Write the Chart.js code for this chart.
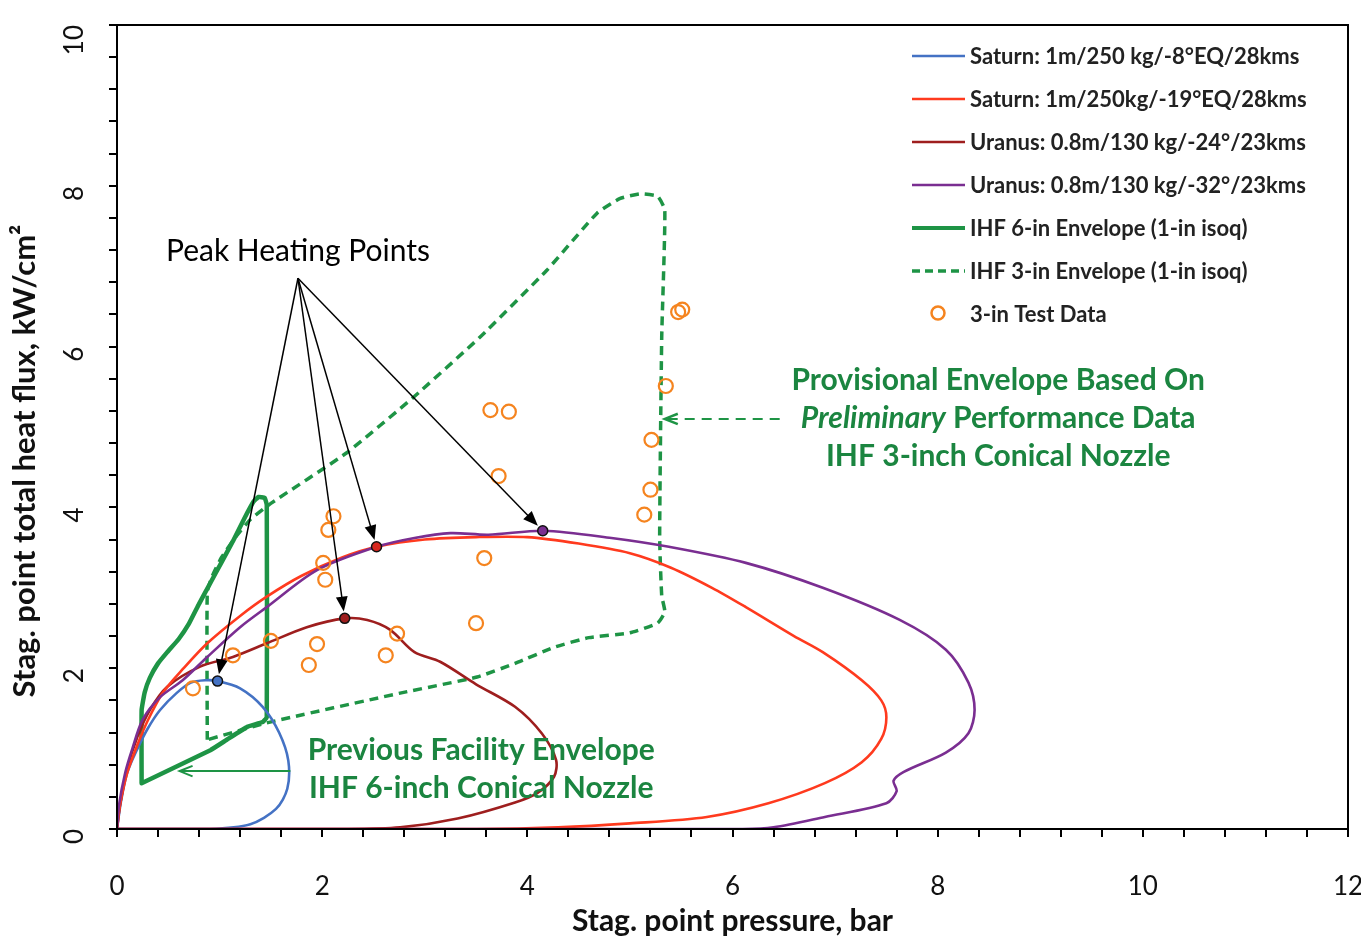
<!DOCTYPE html>
<html lang="en">
<head>
<meta charset="UTF-8">
<title>Stag. point heat flux vs pressure</title>
<script src="https://cdn.jsdelivr.net/npm/chart.js"></script>
<style>
  body { margin: 0; background: #fff; }
</style>
</head>
<body>
<canvas id="chart" width="1361" height="939"></canvas>
<script>
// trajectories: [stag. point pressure (bar), total heat flux (kW/cm2)]
const saturn8 = [[0,0],[0.04,0.35],[0.1,0.7],[0.2,1.0],[0.3,1.25],[0.42,1.48],[0.58,1.69],[0.72,1.82],[0.86,1.85],[0.98,1.84],
  [1.2,1.75],[1.42,1.52],[1.58,1.2],[1.67,0.85],[1.66,0.5],[1.55,0.25],[1.3,0.06],[0.9,0],[0,0]];
const saturn19 = [[0,0],[0.03,0.3],[0.1,0.7],[0.2,1.05],[0.3,1.35],[0.45,1.7],[0.65,2.0],[0.88,2.31],[1.2,2.65],[1.46,2.89],
  [1.8,3.15],[2.2,3.38],[2.53,3.51],[3.0,3.6],[3.5,3.63],[4.0,3.63],[4.5,3.55],[5.0,3.43],[5.4,3.25],[5.8,3.0],[6.13,2.76],
  [6.6,2.4],[6.88,2.2],[7.26,1.85],[7.45,1.6],[7.5,1.39],[7.45,1.12],[7.26,0.83],[6.9,0.57],[6.35,0.32],[5.75,0.15],
  [5.0,0.07],[4.3,0.02],[3.5,0],[0,0]];
const uranus24 = [[0,0],[0.03,0.3],[0.1,0.75],[0.2,1.15],[0.32,1.48],[0.49,1.77],[0.81,2.02],[1.13,2.14],[1.46,2.31],[1.85,2.51],
  [2.22,2.62],[2.44,2.6],[2.66,2.48],[2.9,2.2],[3.15,2.08],[3.5,1.8],[3.88,1.52],[4.14,1.19],[4.28,0.86],[4.26,0.65],
  [4.1,0.45],[3.88,0.33],[3.32,0.13],[2.76,0.02],[2.2,0],[0,0]];
const uranus32 = [[0,0],[0.02,0.3],[0.08,0.7],[0.15,1.0],[0.25,1.36],[0.42,1.64],[0.64,1.85],[0.88,2.14],[1.2,2.51],[1.46,2.76],
  [1.95,3.22],[2.53,3.51],[2.9,3.62],[3.25,3.68],[3.62,3.66],[4.16,3.71],[4.82,3.62],[5.38,3.51],[6.13,3.31],[6.88,3.0],
  [7.63,2.6],[8.08,2.23],[8.3,1.82],[8.36,1.48],[8.3,1.19],[8.08,0.95],[7.67,0.71],[7.57,0.6],[7.6,0.47],[7.5,0.32],
  [6.9,0.15],[6.4,0.02],[6.1,0],[0,0]];
// facility envelopes
const ihf6 = [[0.24,0.57],[0.24,1.48],[0.27,1.7],[0.32,1.88],[0.4,2.06],[0.49,2.2],[0.6,2.36],[0.7,2.55],[0.8,2.8],[0.91,3.06],
  [1.02,3.32],[1.13,3.58],[1.24,3.86],[1.33,4.07],[1.38,4.13],[1.44,4.12],[1.46,4.03],[1.46,1.39],[1.42,1.33],[1.27,1.27],
  [1.07,1.11],[0.91,0.98],[0.24,0.57]];
const ihf3 = [[0.88,1.11],[0.88,2.95],[0.93,3.15],[1.02,3.38],[1.15,3.62],[1.3,3.85],[1.5,4.05],[2.24,4.68],[2.89,5.37],[3.54,6.12],
  [4.19,6.95],[4.68,7.66],[4.9,7.84],[5.1,7.9],[5.27,7.87],[5.34,7.7],[5.31,6.12],[5.29,3.63],[5.31,2.9],[5.34,2.7],
  [5.27,2.56],[5.0,2.44],[4.6,2.38],[4.26,2.26],[3.88,2.06],[3.51,1.89],[2.76,1.69],[1.46,1.32],[0.88,1.11]];
const testData = [[0.74,1.75],[1.13,2.16],[1.5,2.34],[1.87,2.04],[1.95,2.3],[2.62,2.16],[2.73,2.43],[3.5,2.56],[3.58,3.37],
  [2.03,3.1],[2.01,3.31],[2.06,3.72],[2.11,3.89],[3.64,5.21],[3.82,5.19],[3.72,4.39],[5.14,3.91],[5.2,4.22],[5.21,4.84],
  [5.35,5.51],[5.47,6.43],[5.51,6.46]];
const peaks = [[0.98,1.84],[2.22,2.62],[2.53,3.51],[4.15,3.71]];
const peakColors = ['#4472C4', '#9E1E1E', '#D7261E', '#7A2E91'];

const seriesLabels = ['Saturn: 1m/250 kg/-8°EQ/28kms', 'Saturn: 1m/250kg/-19°EQ/28kms', 'Uranus: 0.8m/130 kg/-24°/23kms',
  'Uranus: 0.8m/130 kg/-32°/23kms', 'IHF 6-in Envelope (1-in isoq)', 'IHF 3-in Envelope (1-in isoq)', '3-in Test Data'];

const BLUE = '#4472C4', RED = '#FF3A1E', BROWN = '#9E1E1E', PURPLE = '#7A2E91';
const GREEN = '#1E9445', GREEN_TXT = '#1B8540', ORANGE = '#F5841F';
const FONT = 'Lato, "Open Sans", sans-serif';

const pts = arr => arr.map(p => ({ x: p[0], y: p[1] }));

function line(label, data, color, width, extra) {
  return Object.assign({
    label, data: pts(data), showLine: true, borderColor: color, borderWidth: width,
    pointRadius: 0, fill: false, tension: 0.3
  }, extra || {});
}

function arrowHead(ctx, x1, y1, x2, y2, size, filled) {
  const ang = Math.atan2(y2 - y1, x2 - x1);
  const a1 = ang + Math.PI - 0.38, a2 = ang + Math.PI + 0.38;
  ctx.beginPath();
  ctx.moveTo(x2 + size * Math.cos(a1), y2 + size * Math.sin(a1));
  ctx.lineTo(x2, y2);
  ctx.lineTo(x2 + size * Math.cos(a2), y2 + size * Math.sin(a2));
  if (filled) { ctx.closePath(); ctx.fill(); } else { ctx.stroke(); }
}

const overlay = {
  id: 'overlay',
  afterDatasetsDraw(chart) {
    const { ctx, chartArea: a, scales: { x, y } } = chart;
    ctx.save();
    // box round the plot
    ctx.strokeStyle = '#000';
    ctx.lineWidth = 2;
    ctx.strokeRect(a.left, a.top, a.right - a.left, a.bottom - a.top);

    // y axis title (placed by hand, it sits a bit below the middle of the axis)
    ctx.save();
    ctx.translate(25, 461);
    ctx.rotate(-Math.PI / 2);
    ctx.font = 'bold 31px ' + FONT;
    ctx.fillStyle = '#111';
    ctx.textAlign = 'center';
    ctx.textBaseline = 'middle';
    ctx.fillText('Stag. point total heat flux, kW/cm²', 0, 0);
    ctx.restore();

    // peak heating arrows
    const ax = x.getPixelForValue(1.764), ay = y.getPixelForValue(6.85);
    ctx.lineWidth = 1.5;
    ctx.fillStyle = '#000';
    peaks.forEach(p => {
      const px = x.getPixelForValue(p[0]), py = y.getPixelForValue(p[1]);
      const d = Math.hypot(px - ax, py - ay);
      const tx = px - (px - ax) / d * 7, ty = py - (py - ay) / d * 7;
      ctx.beginPath(); ctx.moveTo(ax, ay); ctx.lineTo(tx - (px - ax) / d * 8, ty - (py - ay) / d * 8); ctx.stroke();
      arrowHead(ctx, ax, ay, tx, ty, 16, true);
    });
    ctx.font = '30px ' + FONT;
    ctx.textAlign = 'center';
    ctx.textBaseline = 'middle';
    ctx.fillText('Peak Heating Points', ax, y.getPixelForValue(7.19));

    // green pointer arrows
    ctx.strokeStyle = GREEN;
    ctx.lineWidth = 2;
    let y1 = y.getPixelForValue(0.72);
    ctx.beginPath(); ctx.moveTo(x.getPixelForValue(1.69), y1); ctx.lineTo(x.getPixelForValue(0.61), y1); ctx.stroke();
    arrowHead(ctx, x.getPixelForValue(1.69), y1, x.getPixelForValue(0.61), y1, 14, false);
    y1 = y.getPixelForValue(5.1);
    ctx.setLineDash([10, 7]);
    ctx.beginPath(); ctx.moveTo(x.getPixelForValue(6.46), y1); ctx.lineTo(x.getPixelForValue(5.36), y1); ctx.stroke();
    ctx.setLineDash([]);
    ctx.lineWidth = 2.5;
    arrowHead(ctx, x.getPixelForValue(6.46), y1, x.getPixelForValue(5.34), y1, 14, false);

    // green notes
    ctx.fillStyle = GREEN_TXT;
    const bold = 'bold 30px ' + FONT;
    ctx.font = bold;
    const cx = x.getPixelForValue(8.59);
    ctx.fillText('Provisional Envelope Based On', cx, y.getPixelForValue(5.58));
    ctx.fillText('IHF 3-inch Conical Nozzle', cx, y.getPixelForValue(4.63));
    const it = 'italic bold 30px ' + FONT;
    ctx.font = it;
    const w1 = ctx.measureText('Preliminary').width;
    ctx.font = bold;
    const w2 = ctx.measureText(' Performance Data').width;
    let sx = cx - (w1 + w2) / 2, sy = y.getPixelForValue(5.11);
    ctx.textAlign = 'left';
    ctx.font = it; ctx.fillText('Preliminary', sx, sy);
    ctx.font = bold; ctx.fillText(' Performance Data', sx + w1, sy);
    ctx.textAlign = 'center';
    const cx2 = x.getPixelForValue(3.55);
    ctx.fillText('Previous Facility Envelope', cx2, y.getPixelForValue(0.98));
    ctx.fillText('IHF 6-inch Conical Nozzle', cx2, y.getPixelForValue(0.51));

    // legend
    const styles = [
      { c: BLUE, w: 2.5 }, { c: RED, w: 2.5 }, { c: BROWN, w: 2.5 }, { c: PURPLE, w: 2.5 },
      { c: GREEN, w: 4 }, { c: GREEN, w: 3.5, dash: [8, 5] }, { c: ORANGE, circle: true }
    ];
    ctx.font = 'bold 22px ' + FONT;
    ctx.textAlign = 'left';
    ctx.fillStyle = '#222';
    seriesLabels.forEach((lab, i) => {
      const ly = a.top + 31 + i * 43;
      const s = styles[i];
      ctx.strokeStyle = s.c;
      if (s.circle) {
        ctx.lineWidth = 2.5;
        ctx.beginPath(); ctx.arc(938, ly - 1, 6.5, 0, Math.PI * 2); ctx.stroke();
      } else {
        ctx.lineWidth = s.w;
        ctx.setLineDash(s.dash || []);
        ctx.beginPath(); ctx.moveTo(912, ly); ctx.lineTo(965, ly); ctx.stroke();
        ctx.setLineDash([]);
      }
      ctx.fillText(lab, 970, ly + 1);
    });
    ctx.restore();
  }
};

const labelEvery2 = v => {
  const r = Math.round(v);
  return (Math.abs(v - r) < 1e-6 && r % 2 === 0) ? String(r) : '';
};

new Chart(document.getElementById('chart'), {
  type: 'scatter',
  data: {
    datasets: [
      {
        label: 'peaks', data: pts(peaks), pointRadius: 5, pointBackgroundColor: peakColors,
        pointBorderColor: '#111', pointBorderWidth: 1.5, showLine: false
      },
      {
        label: seriesLabels[6], data: pts(testData), pointRadius: 7, pointBorderWidth: 2.2,
        pointBorderColor: ORANGE, pointBackgroundColor: 'rgba(255,255,255,0)', showLine: false
      },
      line(seriesLabels[3], uranus32, PURPLE, 2.6),
      line(seriesLabels[1], saturn19, RED, 2.6),
      line(seriesLabels[2], uranus24, BROWN, 2.6),
      line(seriesLabels[0], saturn8, BLUE, 2.6),
      line(seriesLabels[5], ihf3, GREEN, 3.5, { borderDash: [9, 6], tension: 0.15 }),
      line(seriesLabels[4], ihf6, GREEN, 4.5, { tension: 0.1, borderJoinStyle: 'round', borderCapStyle: 'round' })
    ]
  },
  options: {
    responsive: false,
    animation: false,
    layout: { padding: { top: 25, right: 13, left: 0, bottom: 0 } },
    plugins: { legend: { display: false }, tooltip: { enabled: false } },
    scales: {
      x: {
        type: 'linear', min: 0, max: 12,
        afterBuildTicks: s => { s.ticks = Array.from({ length: 31 }, (_, i) => ({ value: +(i * 0.4).toFixed(1) })); },
        ticks: { callback: labelEvery2, autoSkip: false, maxRotation: 0, color: '#111', font: { size: 26, family: FONT }, padding: 34 },
        grid: { drawOnChartArea: false, color: '#000', lineWidth: 2, tickLength: 8 },
        border: { color: '#000', width: 2 },
        title: { display: true, text: 'Stag. point pressure, bar', color: '#111', font: { size: 30, weight: 'bold', family: FONT }, padding: { top: 0, bottom: 0 } },
        afterFit: s => { s.height = 110; s.paddingLeft = 0; s.paddingRight = 0; }
      },
      y: {
        type: 'linear', min: 0, max: 10,
        afterBuildTicks: s => { s.ticks = Array.from({ length: 26 }, (_, i) => ({ value: +(i * 0.4).toFixed(1) })); },
        ticks: { callback: labelEvery2, autoSkip: false, minRotation: 90, maxRotation: 90, color: '#111', font: { size: 26, family: FONT }, padding: 34 },
        grid: { drawOnChartArea: false, color: '#000', lineWidth: 2, tickLength: 8 },
        border: { color: '#000', width: 2 },
        afterFit: s => { s.width = 117; s.paddingTop = 0; s.paddingBottom = 0; }
      }
    }
  },
  plugins: [overlay]
});
</script>
</body>
</html>
